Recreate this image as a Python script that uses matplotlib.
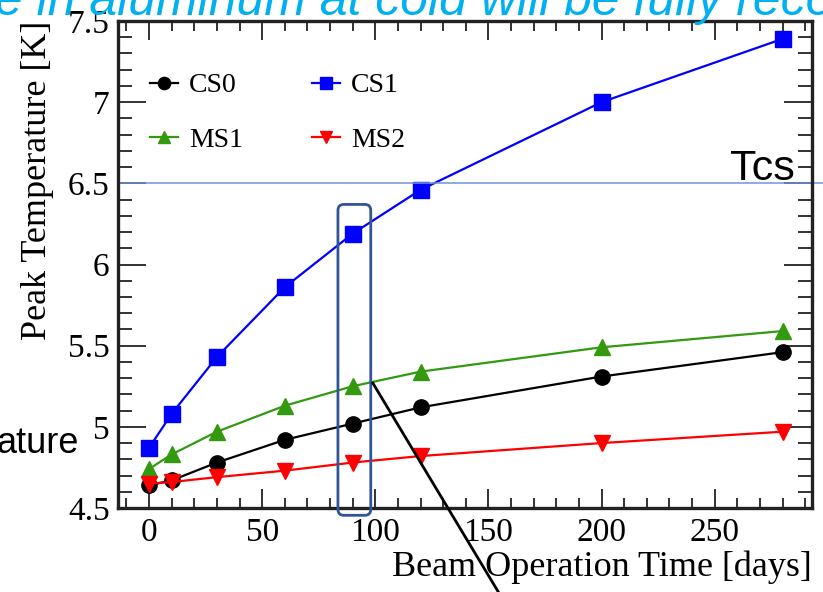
import matplotlib
matplotlib.use('Agg')
import matplotlib.pyplot as plt
import matplotlib.ticker as ticker
from matplotlib.patches import FancyBboxPatch

# Beam operation time [days]
days = [0, 10, 30, 60, 90, 120, 200, 280]

# Peak temperature [K] per model
cs0 = [4.64, 4.67, 4.78, 4.92, 5.02, 5.12, 5.31, 5.46]
cs1 = [4.87, 5.08, 5.43, 5.86, 6.19, 6.46, 7.00, 7.39]
ms1 = [4.74, 4.83, 4.97, 5.13, 5.25, 5.34, 5.49, 5.59]
ms2 = [4.65, 4.66, 4.69, 4.73, 4.78, 4.82, 4.90, 4.97]

t_cs = 6.5

serif = 'Liberation Serif'
sans = 'Liberation Sans'

fig = plt.figure(figsize=(8.23, 5.92), dpi=100)
ax = fig.add_axes([118 / 823, 1 - 508 / 592, (812 - 118) / 823, (508 - 21) / 592])

l0, = ax.plot(days, cs0, color='black', lw=1.6, marker='o', ms=11, label='CS0')
l1, = ax.plot(days, cs1, color='#0000ff', lw=1.6, marker='s', ms=11, label='CS1')
l2, = ax.plot(days, ms1, color='#33990f', lw=1.6, marker='^', ms=11, label='MS1')
l3, = ax.plot(days, ms2, color='#ff0000', lw=1.6, marker='v', ms=11, label='MS2')

ax.set_xlim(-13.7, 293)
ax.set_ylim(4.5, 7.5)

# ROOT-like ticks on every side
ax.xaxis.set_major_locator(ticker.MultipleLocator(50))
ax.xaxis.set_minor_locator(ticker.MultipleLocator(10))
ax.yaxis.set_major_locator(ticker.MultipleLocator(0.5))
ax.yaxis.set_minor_locator(ticker.MultipleLocator(0.1))
ax.yaxis.set_major_formatter(ticker.FuncFormatter(lambda v, p: '%g' % v))
ax.tick_params(axis='both', which='both', direction='in', top=True, right=True,
               width=1.3, color='#222222')
ax.tick_params(axis='x', which='major', length=14)
ax.tick_params(axis='x', which='minor', length=7)
ax.tick_params(axis='y', which='major', length=20)
ax.tick_params(axis='y', which='minor', length=10)
ax.tick_params(axis='x', which='major', pad=7)
ax.tick_params(axis='y', which='major', pad=6)
for lab in ax.get_xticklabels() + ax.get_yticklabels():
    lab.set_family(serif)
    lab.set_fontsize(24)
for sp in ax.spines.values():
    sp.set_linewidth(2.4)
    sp.set_color('#222222')

ax.set_xlabel('Beam Operation Time [days]', loc='right', family=serif,
              fontsize=26, labelpad=2)
ax.set_ylabel('Peak Temperature [K]', loc='top', family=serif,
              fontsize=26, labelpad=10)

ax.legend(handles=[l0, l2, l1, l3], ncol=2, frameon=False,
          prop={'family': serif, 'size': 20}, loc='upper left',
          bbox_to_anchor=(0.01, 0.945), handlelength=1.0, handletextpad=0.4,
          columnspacing=2.5, labelspacing=1.05, markerscale=0.8)

# Tcs threshold line and its label
ax.axhline(t_cs, xmin=0, xmax=(823 - 118) / (812 - 118), color='#6f95d6',
           lw=1.1, clip_on=False)
fig.text(795 / 823, 1 - 180 / 592, 'Tcs', family=sans, fontsize=31,
         ha='right', va='baseline')

# highlight box at 90 days, with the pointer line
box = FancyBboxPatch((83.5, 4.455), 14.5, 1.915,
                     boxstyle='round,pad=0,rounding_size=2.6',
                     mutation_aspect=0.0143, fill=False, ec='#2f5597',
                     lw=2, clip_on=False, zorder=5)
ax.add_patch(box)
ax.plot([98.9, 154.5], [5.27, 3.98], color='black', lw=2, clip_on=False,
        zorder=5)

# slide text cut off by the crop
fig.text(-5 / 823, 1 - 15 / 592, 'e in aluminum at cold will be fully recovered',
         family=sans, style='italic', fontsize=36, color='#00b0f0',
         va='baseline')
fig.text(-3 / 823, 1 - 453 / 592, 'ature', family=sans, fontsize=26,
         va='baseline')

fig.savefig('out.png', dpi=100)
